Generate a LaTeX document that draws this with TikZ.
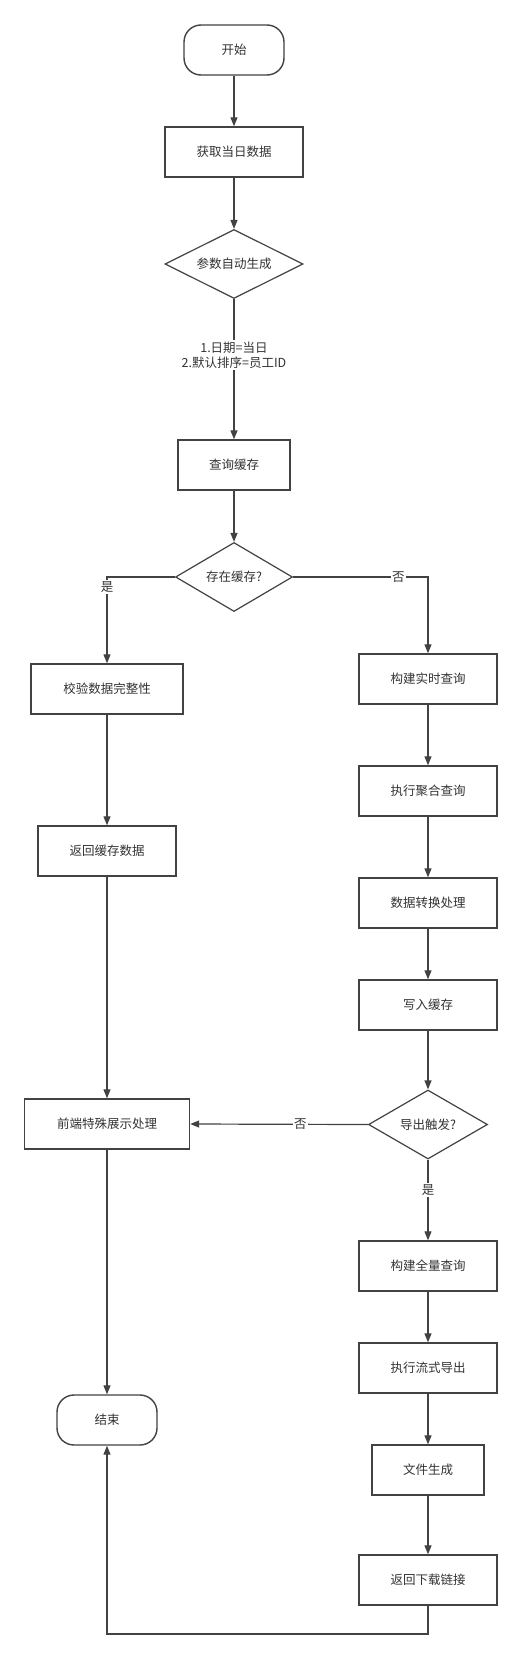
\documentclass[tikz,border=0pt]{standalone}
\usepackage{fontspec}
\setmainfont{Noto Sans CJK SC}
\usetikzlibrary{shapes.geometric,arrows.meta,positioning}
\definecolor{ln}{HTML}{424242}
\definecolor{tx}{HTML}{333333}
\begin{document}
\begin{tikzpicture}[x=1pt,y=-1pt,
  font=\fontsize{12.5}{15}\selectfont, text=tx,
  proc/.style={draw=ln,line width=1.4pt,rectangle,minimum height=50pt,inner sep=0pt},
  term/.style={draw=ln,line width=1.4pt,rectangle,rounded corners=17pt,minimum width=100pt,minimum height=50pt},
  dec/.style={draw=ln,line width=1.2pt,diamond,aspect=2,inner sep=0pt},
  conn/.style={draw=ln,line width=1.2pt,-{Triangle[length=9pt,width=7pt]}},
  lbl/.style={fill=white,inner sep=1.5pt,text=tx,align=center}]
\useasboundingbox (0,0) rectangle (522,1659);
\fill[white] (0,0) rectangle (522,1659);
% nodes
\node[term] (start) at (234,50) {开始};
\node[proc,minimum width=138pt] (get) at (234,152) {获取当日数据};
\node[dec,minimum width=138pt,minimum height=69pt] (param) at (234,264) {参数自动生成};
\node[proc,minimum width=112pt] (qcache) at (234,465) {查询缓存};
\node[dec,minimum width=117pt,minimum height=69pt] (exist) at (234,577) {存在缓存?};
\node[proc,minimum width=152pt] (check) at (107,689) {校验数据完整性};
\node[proc,minimum width=138pt] (retc) at (107,851) {返回缓存数据};
\node[proc,minimum width=165pt] (front) at (107,1124) {前端特殊展示处理};
\node[term] (end) at (107,1420) {结束};
\node[proc,minimum width=138pt] (build) at (428,679) {构建实时查询};
\node[proc,minimum width=138pt] (agg) at (428,791) {执行聚合查询};
\node[proc,minimum width=138pt] (conv) at (428,903) {数据转换处理};
\node[proc,minimum width=138pt] (write) at (428,1005) {写入缓存};
\node[dec,minimum width=119pt,minimum height=69pt] (export) at (428,1124.5) {导出触发?};
\node[proc,minimum width=138pt] (full) at (428,1266) {构建全量查询};
\node[proc,minimum width=138pt] (stream) at (428,1368) {执行流式导出};
\node[proc,minimum width=112pt] (file) at (428,1470) {文件生成};
\node[proc,minimum width=138pt] (link) at (428,1580) {返回下载链接};
\coordinate (corner) at (428,1634);
% connectors
\draw[conn] (start) -- (get);
\draw[conn] (get) -- (param);
\draw[conn] (param) -- node[lbl,pos=0.4]{1.日期=当日\\2.默认排序=员工ID} (qcache);
\draw[conn] (qcache) -- (exist);
\draw[conn] (exist.west) -| node[lbl,pos=0.56]{是} (check.north);
\draw[conn] (exist.east) -| node[lbl,pos=0.39]{否} (build.north);
\draw[conn] (check) -- (retc);
\draw[conn] (retc) -- (front);
\draw[conn] (front) -- (end);
\draw[conn] (build) -- (agg);
\draw[conn] (agg) -- (conv);
\draw[conn] (conv) -- (write);
\draw[conn] (write) -- (export);
\draw[conn] (export.west) -- node[lbl,pos=0.38]{否} (front.east);
\draw[conn] (export.south) -- node[lbl,pos=0.38]{是} (full.north);
\draw[conn] (full) -- (stream);
\draw[conn] (stream) -- (file);
\draw[conn] (file) -- (link);
\draw[conn] (link.south) -- (corner) -| (end.south);
\end{tikzpicture}
\end{document}
